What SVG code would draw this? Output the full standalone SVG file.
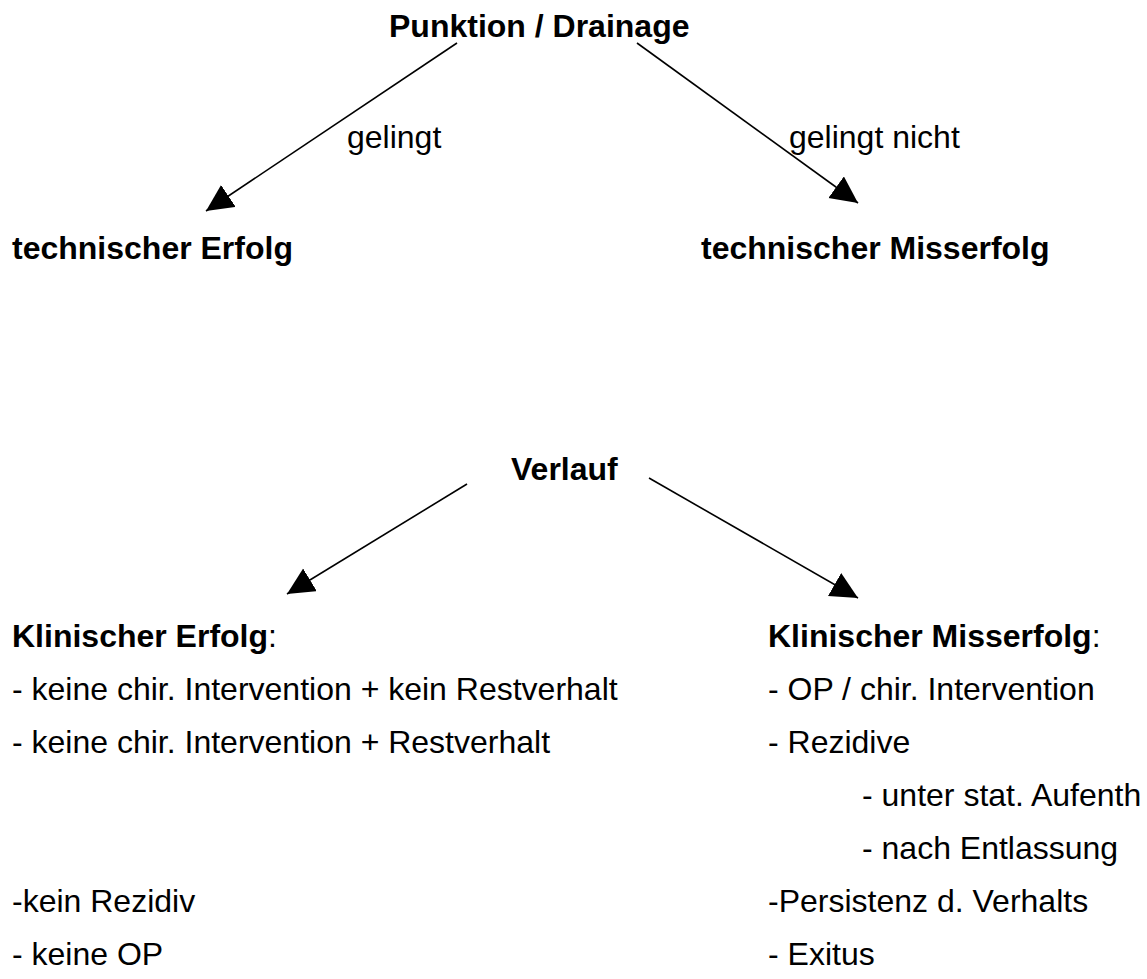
<svg xmlns="http://www.w3.org/2000/svg" width="1147" height="979" viewBox="0 0 1147 979">
<style>
text{font-family:"Liberation Sans",Arial,sans-serif;font-size:32px;fill:#000}
.b{font-weight:bold}
.c{stroke:#000;stroke-width:1.6;fill:none}
</style>
<defs>
<marker id="ah" markerUnits="userSpaceOnUse" markerWidth="28" markerHeight="27" refX="27" refY="13.25" orient="auto" viewBox="0 0 28 27">
<path d="M0,0 L27,13.25 L0,26.5 z" fill="#000"/>
</marker>
</defs>
<rect width="1147" height="979" fill="#fff"/>
<g id="connectors">
<line class="c" x1="457" y1="43" x2="206" y2="211" marker-end="url(#ah)"/>
<line class="c" x1="637" y1="43" x2="858" y2="203" marker-end="url(#ah)"/>
<line class="c" x1="467" y1="484" x2="287" y2="594" marker-end="url(#ah)"/>
<line class="c" x1="649" y1="478" x2="858" y2="598" marker-end="url(#ah)"/>
<text x="347" y="148">gelingt</text>
<text x="789" y="148">gelingt nicht</text>
</g>
<g id="punktion"><text class="b" x="389" y="37">Punktion / Drainage</text></g>
<g id="tech-erfolg"><text class="b" x="12" y="259">technischer Erfolg</text></g>
<g id="tech-misserfolg"><text class="b" x="701" y="259">technischer Misserfolg</text></g>
<g id="verlauf"><text class="b" x="511" y="480">Verlauf</text></g>
<g id="klin-erfolg">
<text x="12" y="647"><tspan class="b">Klinischer Erfolg</tspan>:</text>
<text x="12" y="700">- keine chir. Intervention + kein Restverhalt</text>
<text x="12" y="753">- keine chir. Intervention + Restverhalt</text>
<text x="12" y="912">-kein Rezidiv</text>
<text x="12" y="965">- keine OP</text>
</g>
<g id="klin-misserfolg">
<text x="768" y="647"><tspan class="b">Klinischer Misserfolg</tspan>:</text>
<text x="768" y="700">- OP / chir. Intervention</text>
<text x="768" y="753">- Rezidive</text>
<text x="862" y="806">- unter stat. Aufenth</text>
<text x="862" y="859">- nach Entlassung</text>
<text x="768" y="912">-Persistenz d. Verhalts</text>
<text x="768" y="965">- Exitus</text>
</g>
</svg>
